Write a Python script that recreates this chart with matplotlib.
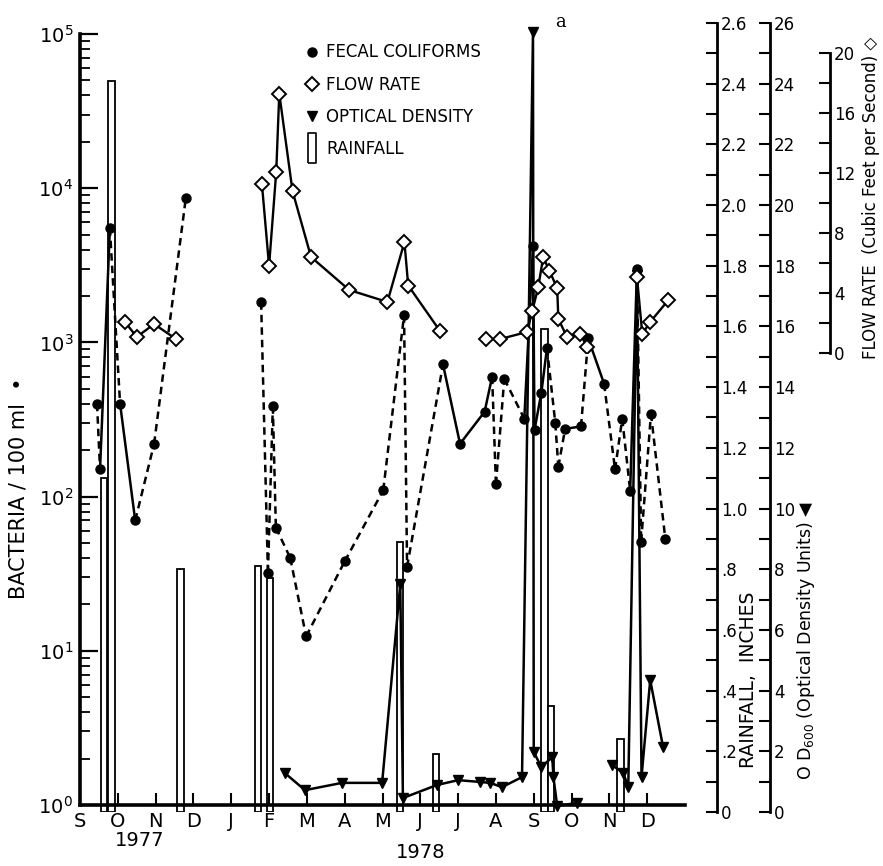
import numpy as np
import matplotlib
matplotlib.use("Agg")
import matplotlib.pyplot as plt
from matplotlib.lines import Line2D
from matplotlib.ticker import FixedLocator, LogLocator, NullFormatter

plt.rcParams['font.family'] = ['DejaVu Sans']

# x values are months counted from 1 Sep 1977
month_labels = ['S', 'O', 'N', 'D', 'J', 'F', 'M', 'A', 'M', 'J', 'J', 'A', 'S', 'O', 'N', 'D']

# fecal coliforms (per 100 ml)
fc_month = [0.45, 0.53, 0.79, 1.06, 1.46, 1.96, 2.80,
            4.79, 4.97, 5.10, 5.18, 5.56, 5.98, 7.00, 8.02, 8.57, 8.65,
            9.60, 10.05, 10.70, 10.90, 11.00, 11.22, 11.75, 11.98, 12.02, 12.20,
            12.35, 12.57, 12.65, 12.83, 13.25, 13.44, 13.86, 14.15, 14.34, 14.55,
            14.73, 14.84, 15.10, 15.48]
fc_count = [400, 150, 5500, 400, 70, 220, 8700,
            1820, 32, 385, 63, 40, 12.4, 38, 110, 1500, 35,
            720, 220, 355, 600, 120, 580, 320, 4200, 270, 470,
            920, 300, 156, 275, 285, 1060, 540, 150, 320, 109,
            3000, 51, 345, 53]
# line style of the segment going to the next point ('' = no line)
fc_style = ['--', '-', '--', '-', '--', '--', '',
            '--', '--', '--', '--', '--', '--', '--', '--', '--', '--',
            '-', '-', '-', '--', '--', '--', '-', '-', '-', '-',
            '--', '--', '--', '-', '--', '-', '--', '--', '--', '-',
            '--', '--', '--']

# flow rate (cubic feet per second)
flow_month = [1.19, 1.50, 1.96, 2.54, np.nan,
              4.81, 5.00, 5.19, 5.27, 5.62, 6.11, 7.12, 8.13, 8.58, 8.68, 9.52, np.nan,
              10.74, 11.11, 11.82, 11.96, 12.12, 12.25, 12.41, 12.62, 12.65, 12.88, 13.23, 13.41, np.nan,
              14.73, 14.87, 15.08, 15.56]
flow_cfs = [2.07, 1.07, 1.93, 0.93, np.nan,
            11.3, 5.8, 12.1, 17.3, 10.8, 6.4, 4.2, 3.4, 7.4, 4.5, 1.47, np.nan,
            0.93, 0.93, 1.4, 2.8, 4.4, 6.4, 5.5, 4.33, 2.27, 1.07, 1.27, 0.4, np.nan,
            5.07, 1.27, 2.07, 3.53]

# optical density (OD600 units)
od_month = [5.42, 5.95, 6.93, 7.99, 8.47, 8.54, 9.44, 10.00, 10.58, 10.85, 11.16, 11.69,
            11.98, 12.00, 12.20, 12.49, 12.52, 12.62, 13.15, np.nan,
            14.07, 14.37, 14.50, 14.73, 14.85, 15.08, 15.42]
od_units = [1.28, 0.72, 0.96, 0.96, 7.5, 0.46, 0.89, 1.05, 0.99, 0.96, 0.82, 1.15,
            25.7, 1.98, 1.48, 1.81, 1.15, 0.2, 0.3, np.nan,
            1.55, 1.28, 0.82, 17.7, 1.15, 4.35, 2.14]

# rainfall (inches)
rain_month = [0.635, 0.83, 2.66, 4.70, 5.03, 8.47, 9.42, 12.28, 12.46, 14.29]
rain_inches = [1.10, 2.41, 0.80, 0.81, 0.77, 0.89, 0.19, 1.59, 0.35, 0.24]

rain_ticks = [0, .2, .4, .6, .8, 1.0, 1.2, 1.4, 1.6, 1.8, 2.0, 2.2, 2.4, 2.6]
rain_ticklabels = ['0', '.2', '.4', '.6', '.8', '1.0', '1.2', '1.4', '1.6', '1.8',
                   '2.0', '2.2', '2.4', '2.6']

W, H = 883, 866
fig = plt.figure(figsize=(W / 100, H / 100), dpi=100)


def box(x0, y0, x1, y1):
    # pixel box (top-left origin) -> figure fraction rect
    return [x0 / W, 1 - y1 / H, (x1 - x0) / W, (y1 - y0) / H]


def right_only(a, pos):
    for s in ['left', 'top', 'bottom']:
        a.spines[s].set_visible(False)
    a.spines['right'].set_position(('axes', pos))
    a.spines['right'].set_linewidth(2.0)
    a.yaxis.set_ticks_position('right')
    a.xaxis.set_visible(False)
    a.patch.set_visible(False)
    a.set_xlim(0, 16)
    a.tick_params(axis='y', which='both', direction='in', length=8, width=1.5,
                  pad=3, labelsize=12)


ax_rain = fig.add_axes(box(80, 23, 685, 812), zorder=1)
ax = fig.add_axes(box(80, 34, 685, 805), zorder=2)
ax_od = fig.add_axes(box(80, 23, 685, 812), zorder=3)
ax_flow = fig.add_axes(box(80, 53, 685, 353), zorder=4)

# rainfall bars
right_only(ax_rain, (717 - 80) / 605)
ax_rain.bar(rain_month, rain_inches, width=0.17, color='white', edgecolor='black',
            linewidth=1.3)
ax_rain.set_ylim(0, 2.6)
ax_rain.yaxis.set_major_locator(FixedLocator(rain_ticks))
ax_rain.set_yticklabels(rain_ticklabels)
ax_rain.yaxis.set_minor_locator(FixedLocator(np.arange(0.1, 2.6, 0.2)))

# fecal coliforms on the log axis
ax.set_yscale('log')
ax.set_ylim(1, 1e5)
ax.set_xlim(0, 16)
ax.patch.set_visible(False)
for s in ['top', 'right']:
    ax.spines[s].set_visible(False)
ax.spines['left'].set_linewidth(2.6)
ax.spines['bottom'].set_linewidth(2.6)
for i in range(len(fc_month) - 1):
    if fc_style[i]:
        ls = (0, (3, 2)) if fc_style[i] == '--' else '-'
        ax.plot(fc_month[i:i + 2], fc_count[i:i + 2], color='black', lw=1.8, ls=ls)
ax.plot(fc_month, fc_count, 'o', color='black', ms=6.5)
ax.yaxis.set_major_locator(LogLocator(base=10, numticks=10))
ax.yaxis.set_minor_locator(LogLocator(base=10, subs=np.arange(2, 10), numticks=10))
ax.yaxis.set_minor_formatter(NullFormatter())
ax.tick_params(axis='y', which='major', direction='in', length=13, width=1.6,
               labelsize=14, pad=5)
ax.tick_params(axis='y', which='minor', direction='in', length=7, width=1.3)
ax.set_xticks(range(16))
ax.set_xticklabels(month_labels)
ax.tick_params(axis='x', direction='in', length=9, width=1.5, labelsize=14, pad=5)

# optical density
right_only(ax_od, (770 - 80) / 605)
ax_od.plot(od_month, od_units, '-v', color='black', lw=1.8, ms=7)
ax_od.set_ylim(0, 26)
ax_od.yaxis.set_major_locator(FixedLocator(np.arange(0, 27, 2)))
ax_od.yaxis.set_minor_locator(FixedLocator(np.arange(1, 26, 2)))
ax_od.annotate('a', xy=(od_month[12], od_units[12]), xytext=(16, 4),
               textcoords='offset points', family='DejaVu Serif', fontsize=13)

# flow rate
right_only(ax_flow, (830 - 80) / 605)
ax_flow.plot(flow_month, flow_cfs, '-D', color='black', lw=1.7, ms=7,
             markerfacecolor='white', markeredgewidth=1.4)
ax_flow.set_ylim(0, 20)
ax_flow.yaxis.set_major_locator(FixedLocator(np.arange(0, 21, 4)))
ax_flow.yaxis.set_minor_locator(FixedLocator(np.arange(2, 20, 4)))

# axis titles and year labels
fig.text(19 / W, 1 - 488 / H, 'BACTERIA / 100 ml  \u2022', rotation=90,
         ha='center', va='center', fontsize=15)
fig.text(749 / W, 1 - 680 / H, 'RAINFALL,  INCHES', rotation=90,
         ha='center', va='center', fontsize=13.5)
fig.text(806 / W, 1 - 640 / H, 'O D$_{600}$ (Optical Density Units) \u25c0',
         rotation=90, ha='center', va='center', fontsize=12.5)
fig.text(871 / W, 1 - 198 / H, 'FLOW RATE  (Cubic Feet per Second) \u25c7',
         rotation=90, ha='center', va='center', fontsize=12)
fig.text(140 / W, 1 - 840 / H, '1977', ha='center', va='center', fontsize=14)
fig.text(421 / W, 1 - 853 / H, '1978', ha='center', va='center', fontsize=14)

# legend
handles = [
    Line2D([], [], ls='', marker='o', color='black', ms=6.5),
    Line2D([], [], ls='', marker='D', color='black', mfc='white', ms=7, mew=1.4),
    Line2D([], [], ls='', marker='v', color='black', ms=7),
    Line2D([], [], ls='', marker=[(-0.25, -1), (0.25, -1), (0.25, 1), (-0.25, 1), (-0.25, -1)],
           color='black', mfc='white', ms=22, mew=1.2),
]
labels = ['FECAL COLIFORMS', 'FLOW RATE', 'OPTICAL DENSITY', 'RAINFALL']
ax_flow.legend(handles, labels, loc='upper left', bbox_to_anchor=(296 / W, 1 - 35 / H),
               bbox_transform=fig.transFigure, frameon=False, fontsize=12,
               handlelength=0.9, handletextpad=0.4, labelspacing=0.85, borderpad=0)

fig.savefig('out.png', dpi=100)
